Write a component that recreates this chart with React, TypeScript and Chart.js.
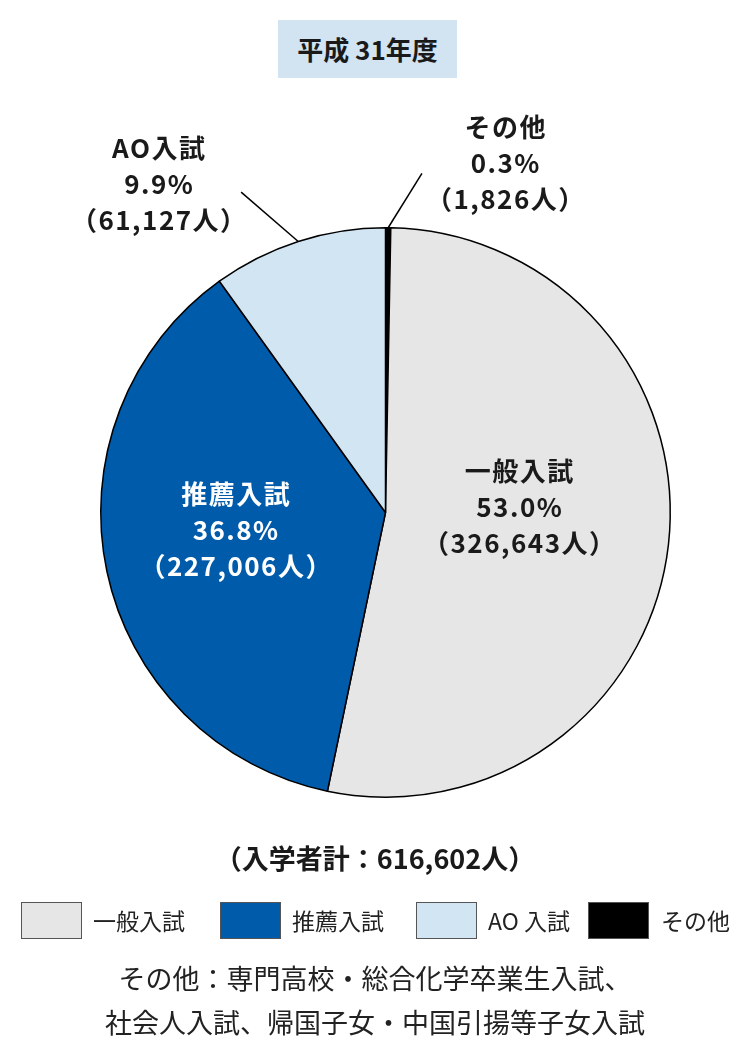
import React, { useEffect, useRef } from "react";
import { Chart, registerables } from "chart.js";
Chart.register(...registerables);

// ---- data ----
const titleText = "平成 31年度";
const categories = ["その他", "一般入試", "推薦入試", "AO入試"];
const counts = [1826, 326643, 227006, 61127];
const percentLabels = ["0.3%", "53.0%", "36.8%", "9.9%"];
const sliceColors = ["#000000", "#e6e6e6", "#005bab", "#d2e5f3"];
const legendOrder = [1, 2, 3, 0];
const legendNames = ["その他", "一般入試", "推薦入試", "AO 入試"];
const totalLabel = "（入学者計：616,602人）";
const noteLines = [
  "その他：専門高校・総合化学卒業生入試、",
  "社会人入試、帰国子女・中国引揚等子女入試",
];

// ---- layout (relative to pie radius) ----
const labelAnchors = [
  [0.419, -1.227],
  [0.468, -0.018],
  [-0.528, 0.061],
  [-0.798, -1.153],
];
const labelColors = ["#1a1a1a", "#1a1a1a", "#ffffff", "#1a1a1a"];
const leaderEnds: (number[] | null)[] = [[0.128, -1.191], null, null, [-0.507, -1.125]];
const legendBoxX = [21, 220, 416, 588];
const legendTextX = [93, 292, 488, 661];

const FONT = '"Noto Sans CJK JP", "Noto Sans", sans-serif';

const labelPlugin = {
  id: "sliceLabels",
  afterDatasetsDraw(chart: any) {
    const ctx = chart.ctx as CanvasRenderingContext2D;
    const meta = chart.getDatasetMeta(0);
    meta.data.forEach((arc: any, i: number) => {
      const cx = arc.x;
      const cy = arc.y;
      const r = arc.outerRadius;
      const mid = (arc.startAngle + arc.endAngle) / 2;
      ctx.save();
      const end = leaderEnds[i];
      if (end) {
        ctx.beginPath();
        ctx.moveTo(cx + Math.cos(mid) * r, cy + Math.sin(mid) * r);
        ctx.lineTo(cx + end[0] * r, cy + end[1] * r);
        ctx.strokeStyle = "#000";
        ctx.lineWidth = 1.5;
        ctx.stroke();
      }
      const ax = cx + labelAnchors[i][0] * r;
      const ay = cy + labelAnchors[i][1] * r;
      const lines = [
        categories[i],
        percentLabels[i],
        "（" + counts[i].toLocaleString("en-US") + "人）",
      ];
      ctx.font = `bold 26px ${FONT}`;
      (ctx as any).letterSpacing = "1.5px";
      ctx.fillStyle = labelColors[i];
      ctx.textAlign = "center";
      ctx.textBaseline = "middle";
      const gap = 36;
      lines.forEach((t, k) => {
        ctx.fillText(t, ax + 1, ay + (k - 1) * gap);
      });
      ctx.restore();
    });
  },
};

export default function App() {
  const ref = useRef<HTMLCanvasElement>(null);
  useEffect(() => {
    if (!ref.current) return;
    const chart = new Chart(ref.current, {
      type: "pie",
      data: {
        labels: categories,
        datasets: [
          {
            data: counts,
            backgroundColor: sliceColors,
            borderColor: "#000000",
            borderWidth: 1.5,
          },
        ],
      },
      options: {
        responsive: false,
        animation: false,
        layout: { padding: { left: 100, top: 227, right: 79, bottom: 253 } },
        plugins: {
          legend: { display: false },
          tooltip: { enabled: false },
          title: { display: false },
        },
      },
      plugins: [labelPlugin],
    });
    return () => chart.destroy();
  }, []);

  return (
    <div
      style={{
        position: "absolute",
        left: 0,
        top: 0,
        width: 750,
        height: 1051,
        background: "#fff",
        fontFamily: FONT,
        color: "#1a1a1a",
      }}
    >
      <canvas ref={ref} width={750} height={1051} style={{ position: "absolute", left: 0, top: 0 }} />
      <div
        style={{
          position: "absolute",
          left: 278,
          top: 20,
          width: 179,
          height: 58,
          background: "#d2e4f2",
          fontWeight: "bold",
          fontSize: 26,
          lineHeight: "58px",
          textAlign: "center",
        }}
      >
        {titleText}
      </div>
      <div
        style={{
          position: "absolute",
          left: 0,
          top: 838,
          width: 750,
          height: 40,
          lineHeight: "40px",
          textAlign: "center",
          fontWeight: "bold",
          fontSize: 27,
        }}
      >
        {totalLabel}
      </div>
      {legendOrder.map((idx, k) => (
        <React.Fragment key={k}>
          <div
            style={{
              position: "absolute",
              left: legendBoxX[k],
              top: 902,
              width: 61,
              height: 37,
              boxSizing: "border-box",
              border: "1.5px solid #555",
              background: sliceColors[idx],
            }}
          />
          <div
            style={{
              position: "absolute",
              left: legendTextX[k],
              top: 902,
              height: 37,
              lineHeight: "37px",
              fontSize: 23,
              whiteSpace: "nowrap",
              color: "#222",
            }}
          >
            {legendNames[idx]}
          </div>
        </React.Fragment>
      ))}
      {noteLines.map((t, k) => (
        <div
          key={k}
          style={{
            position: "absolute",
            left: 0,
            top: 956 + k * 44,
            width: 750,
            height: 44,
            lineHeight: "44px",
            textAlign: "center",
            fontSize: 27,
            color: "#222",
            whiteSpace: "nowrap",
          }}
        >
          {t}
        </div>
      ))}
    </div>
  );
}
